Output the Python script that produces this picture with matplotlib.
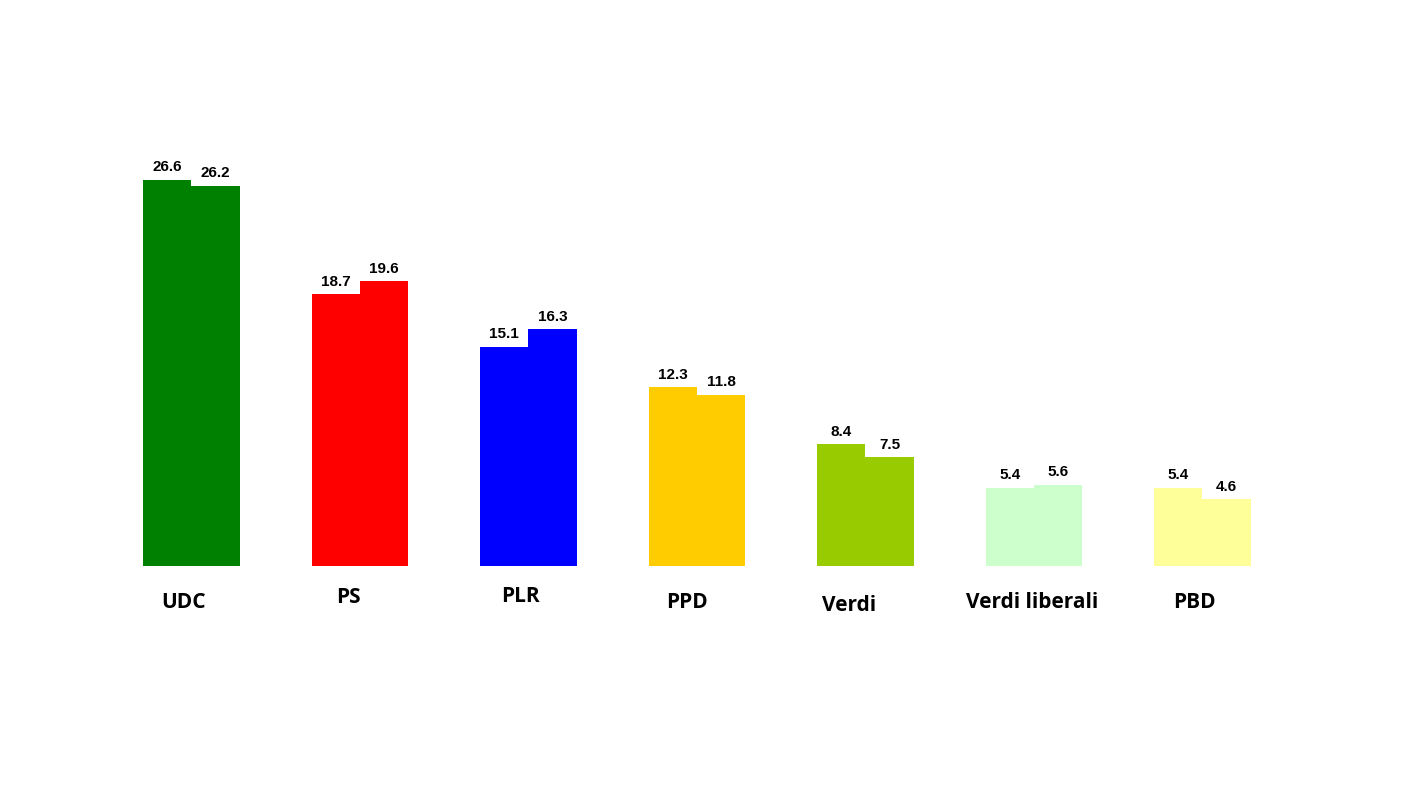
import matplotlib

matplotlib.use("Agg")
import matplotlib.pyplot as plt
import numpy as np

parties = ["UDC", "PS", "PLR", "PPD", "Verdi", "Verdi liberali", "PBD"]
values_2011 = [26.6, 18.7, 15.1, 12.3, 8.4, 5.4, 5.4]
values_2015 = [26.2, 19.6, 16.3, 11.8, 7.5, 5.6, 4.6]
colors = ["#008000", "#ff0000", "#0000ff", "#ffcc00", "#99cc00", "#ccffcc", "#ffff99"]

# small hand tweaks so the party names sit where they do in the original
label_dx = [-0.05, -0.07, -0.05, -0.06, -0.10, -0.01, -0.05]
label_dy = [-2.5, -2.2, -2.1, -2.5, -2.7, -2.5, -2.5]

fig = plt.figure(figsize=(14.08, 7.92), dpi=100)
ax = fig.add_axes([0, 0, 1, 1])
ax.set_xlim(-1.1365, 7.2196)
ax.set_ylim(-15.56, 38.98)
ax.axis("off")

x = np.arange(len(parties))
width = 0.2875
for i, party in enumerate(parties):
    for dx, val in ((-width / 2, values_2011[i]), (width / 2, values_2015[i])):
        ax.bar(x[i] + dx, val, width=width, color=colors[i], linewidth=0)
        ax.annotate(f"{val:.1f}", (x[i] + dx, val), xytext=(0, 4), textcoords="offset points",
                    ha="center", va="bottom", fontsize=11, fontweight="bold",
                    family="Liberation Sans")
    ax.text(x[i] + label_dx[i], label_dy[i], party, ha="center", va="center",
            fontsize=15, fontweight="bold", family="Open Sans")

fig.savefig("out.png", dpi=100)
